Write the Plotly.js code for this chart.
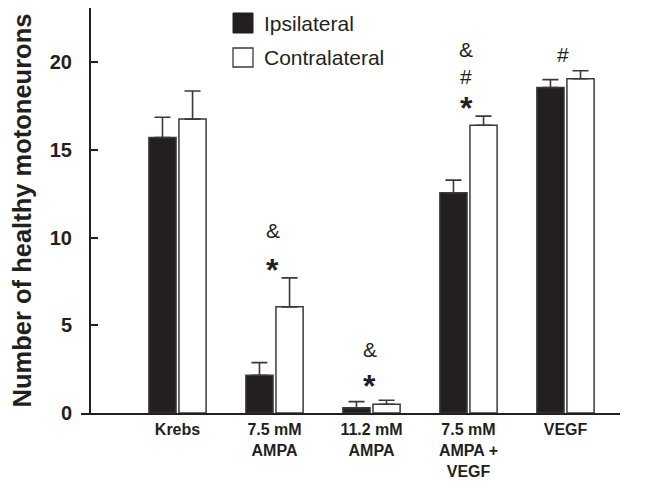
<!DOCTYPE html>
<html>
<head>
<meta charset="utf-8">
<script src="https://cdn.plot.ly/plotly-3.0.1.min.js"></script>
<style>html,body{margin:0;padding:0;background:#fff;}#chart{width:655px;height:484px;}</style>
</head>
<body>
<div id="chart"></div>
<script>
// ---- data ----
const categories = ["Krebs", "7.5 mM<br>AMPA", "11.2 mM<br>AMPA", "7.5 mM<br>AMPA +<br>VEGF", "VEGF"];
const ipsiValues = [15.7, 2.15, 0.3, 12.55, 18.55];
const ipsiErrors = [1.15, 0.72, 0.35, 0.72, 0.45];
const contraValues = [16.75, 6.05, 0.5, 16.4, 19.05];
const contraErrors = [1.6, 1.65, 0.23, 0.52, 0.45];
const seriesNames = ["Ipsilateral", "Contralateral"];
// significance marks: category index, symbol, y value
const markCategory = [1, 1, 2, 2, 3, 3, 3, 4];
const markSymbol = ["&", "*", "&", "*", "&", "#", "*", "#"];
const markY = [10.4, 8.6, 3.6, 2.0, 20.7, 19.2, 17.85, 20.45];

// ---- style ----
const ink = "#231f20";
const font = "Liberation Sans, Arial, sans-serif";
const barW = 0.28;

const traces = [
  {
    type: "bar", name: seriesNames[0], x: categories, y: ipsiValues,
    width: barW, offset: -barW - 0.015,
    marker: {color: ink, line: {color: "#3a3a3a", width: 1.5}},
    error_y: {type: "data", symmetric: false, array: ipsiErrors, arrayminus: ipsiValues.map(() => 0),
              color: "#3a3a3a", thickness: 1.6, width: 8},
    showlegend: false
  },
  {
    type: "bar", name: seriesNames[1], x: categories, y: contraValues,
    width: barW, offset: 0.015,
    marker: {color: "#ffffff", line: {color: "#3a3a3a", width: 1.5}},
    error_y: {type: "data", symmetric: false, array: contraErrors, arrayminus: contraValues.map(() => 0),
              color: "#3a3a3a", thickness: 1.6, width: 8},
    showlegend: false
  }
];

const annotations = markCategory.map((ci, k) => {
  const isStar = markSymbol[k] === "*";
  return {
    x: categories[ci], y: markY[k], xref: "x", yref: "y",
    text: markSymbol[k], showarrow: false,
    xanchor: "center", yanchor: "middle",
    xshift: -2,
    yshift: isStar ? -8 : 0,
    font: {family: font, size: isStar ? 32 : 21, color: ink, weight: isStar ? "bold" : "normal"}
  };
});

// legend (manual)
const W = 655 - 81 - 35, H = 405;
const px = v => (v - 81) / W;
const py = v => (413 - v) / H;
annotations.push(
  {x: px(262), y: py(23), xref: "paper", yref: "paper", xanchor: "left", yanchor: "middle",
   text: seriesNames[0], showarrow: false, font: {family: font, size: 21, color: ink}},
  {x: px(262), y: py(57.5), xref: "paper", yref: "paper", xanchor: "left", yanchor: "middle",
   text: seriesNames[1], showarrow: false, font: {family: font, size: 21, color: ink}}
);
const shapes = [
  {type: "rect", xref: "paper", yref: "paper", x0: px(233), x1: px(253), y0: py(33), y1: py(13),
   fillcolor: ink, line: {color: ink, width: 1}},
  {type: "rect", xref: "paper", yref: "paper", x0: px(233), x1: px(253), y0: py(67), y1: py(48),
   fillcolor: "#ffffff", line: {color: "#3a3a3a", width: 1.3}}
];

const layout = {
  width: 655, height: 484,
  margin: {l: 81, r: 35, t: 8, b: 71},
  paper_bgcolor: "#ffffff", plot_bgcolor: "#ffffff",
  showlegend: false,
  xaxis: {
    type: "category", range: [-0.995, 4.562],
    showline: true, linecolor: ink, linewidth: 2,
    ticks: "", showgrid: false, zeroline: false,
    tickfont: {family: font, size: 16, color: ink, weight: "bold"},
    ticklabelstandoff: 1
  },
  yaxis: {
    range: [0, 23.08], anchor: "free", position: 9 / W,
    showline: true, linecolor: ink, linewidth: 2,
    ticks: "inside", ticklen: 7, tickwidth: 2, tickcolor: ink,
    tickvals: [0, 5, 10, 15, 20],
    showgrid: false, zeroline: false,
    tickfont: {family: font, size: 20, color: ink, weight: "bold"},
    ticklabelstandoff: 13,
    title: {text: "Number of healthy motoneurons", font: {family: font, size: 25.5, color: ink, weight: "bold"}, standoff: 10}
  },
  annotations: annotations,
  shapes: shapes,
  bargap: 0.4
};

Plotly.newPlot("chart", traces, layout, {displayModeBar: false, staticPlot: true});
</script>
</body>
</html>
